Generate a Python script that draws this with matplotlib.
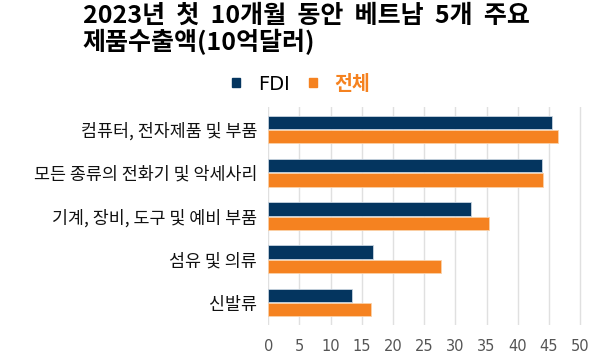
import numpy as np
import matplotlib.pyplot as plt
from matplotlib.patches import Patch

plt.rcParams['font.family'] = ['Noto Sans CJK KR', 'DejaVu Sans']

categories = ['컴퓨터, 전자제품 및 부품', '모든 종류의 전화기 및 악세사리',
              '기계, 장비, 도구 및 예비 부품', '섬유 및 의류', '신발류']
fdi = [45.5, 43.9, 32.5, 16.8, 13.4]
total = [46.4, 44.1, 35.4, 27.7, 16.4]
xticks = [0, 5, 10, 15, 20, 25, 30, 35, 40, 45, 50]

navy = '#04355f'
orange = '#f58220'

fig = plt.figure(figsize=(6, 3.56), dpi=100)
ax = fig.add_axes([0.447, 0.087, 0.523, 0.612])

y = np.arange(len(categories))
h = 0.31
ax.barh(y - h / 2 - 0.01, fdi, height=h, color=navy, edgecolor='#c8d4e0', linewidth=0.6, zorder=3)
ax.barh(y + h / 2 + 0.01, total, height=h, color=orange, edgecolor='#fbd1a8', linewidth=0.6, zorder=3)

ax.set_ylim(len(categories) - 0.48, -0.52)
ax.set_xlim(0, 50.3)
ax.set_yticks(y)
ax.set_yticklabels(categories, fontsize=12.5, color='#111111', fontweight='medium')
ax.set_xticks(xticks)
ax.set_xticklabels([str(t) for t in xticks], fontsize=10.5, color='#555555', family='DejaVu Sans')
ax.tick_params(axis='both', length=0)
ax.tick_params(axis='x', pad=10)
ax.tick_params(axis='y', pad=8)
ax.grid(axis='x', color='#e0e0e0', linewidth=1, zorder=0)
for s in ax.spines.values():
    s.set_visible(False)

fig.text(0.138, 1 - 16 / 356, '2023년  첫  10개월  동안  베트남  5개  주요',
         fontsize=18, fontweight='bold', va='center', ha='left')
fig.text(0.138, 1 - 42 / 356, '제품수출액(10억달러)',
         fontsize=18, fontweight='bold', va='center', ha='left')

handles = [Patch(color=navy), Patch(color=orange)]
leg = fig.legend(handles, ['FDI', '전체'], loc='center', bbox_to_anchor=(0.502, 1 - 84 / 356),
                 ncol=2, frameon=False, fontsize=14, handlelength=0.4, handleheight=0.4,
                 columnspacing=1.0, handletextpad=0.9)
leg.get_texts()[0].set_family('DejaVu Sans')
leg.get_texts()[1].set_color(orange)
leg.get_texts()[1].set_fontweight('bold')

plt.savefig('out.png', dpi=100)
